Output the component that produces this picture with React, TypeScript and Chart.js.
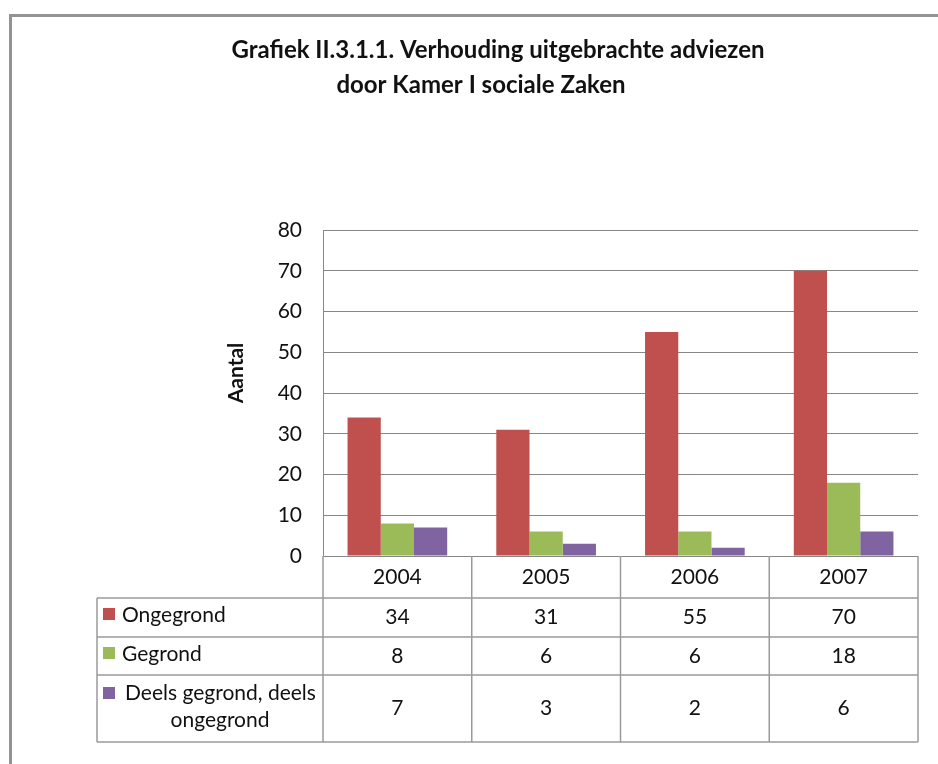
import React, { useEffect, useRef } from "react";
import { Chart, registerables } from "chart.js";

Chart.register(...registerables);

const categories = ["2004", "2005", "2006", "2007"];
const ongegrond = [34, 31, 55, 70];
const gegrond = [8, 6, 6, 18];
const deels = [7, 3, 2, 6];
const seriesNames = ["Ongegrond", "Gegrond", "Deels gegrond, deels ongegrond"];
const seriesColors = ["#C0504D", "#9BBB59", "#8064A2"];
const titleLines = [
  "Grafiek II.3.1.1. Verhouding uitgebrachte adviezen",
  "door Kamer I sociale Zaken",
];
const yAxisTitle = "Aantal";

const FONT = "Lato, 'Open Sans', sans-serif";
const TEXT = "#111111";

const tablePlugin = {
  id: "tablePlugin",
  beforeDraw(chart: any) {
    const ctx = chart.ctx;
    ctx.save();
    ctx.fillStyle = "#ffffff";
    ctx.fillRect(0, 0, chart.width, chart.height);
    ctx.restore();
  },
  afterDraw(chart: any) {
    const ctx = chart.ctx;
    const xs = chart.scales.x;
    const area = chart.chartArea;
    const n = categories.length;
    const colW = (area.right - area.left) / n;
    const bounds = Array.from({ length: n + 1 }, (_, i) => area.left + i * colW);
    const rowY = [area.bottom, 598, 637, 675, 742];
    const tableLeft = 97;

    ctx.save();
    // outer frame
    ctx.strokeStyle = "#939393";
    ctx.lineWidth = 3;
    ctx.beginPath();
    ctx.moveTo(10.5, chart.height);
    ctx.lineTo(10.5, 15.5);
    ctx.lineTo(chart.width, 15.5);
    ctx.stroke();

    // titles
    ctx.fillStyle = TEXT;
    ctx.textAlign = "center";
    ctx.textBaseline = "middle";
    ctx.font = `bold 24px ${FONT}`;
    ctx.fillText(titleLines[0], 498, 50);
    ctx.fillText(titleLines[1], 481, 85);

    // y axis title
    ctx.save();
    ctx.translate(236, 373);
    ctx.rotate(-Math.PI / 2);
    ctx.font = `bold 21px ${FONT}`;
    ctx.fillText(yAxisTitle, 0, 0);
    ctx.restore();

    // table lines
    ctx.strokeStyle = "#9a9a9a";
    ctx.lineWidth = 1.5;
    ctx.beginPath();
    for (let r = 1; r < rowY.length; r++) {
      ctx.moveTo(tableLeft, rowY[r]);
      ctx.lineTo(area.right, rowY[r]);
    }
    bounds.forEach((bx) => {
      ctx.moveTo(bx, area.bottom);
      ctx.lineTo(bx, rowY[rowY.length - 1]);
    });
    ctx.moveTo(tableLeft, rowY[1]);
    ctx.lineTo(tableLeft, rowY[rowY.length - 1]);
    ctx.stroke();

    // header years
    ctx.fillStyle = TEXT;
    ctx.font = `21px ${FONT}`;
    ctx.textAlign = "center";
    categories.forEach((c, i) => {
      const cx = xs.getPixelForValue(i);
      ctx.fillText(c, cx, (rowY[0] + rowY[1]) / 2);
    });

    // rows
    const series = [ongegrond, gegrond, deels];
    series.forEach((vals, s) => {
      const top = rowY[s + 1];
      const bot = rowY[s + 2];
      const cy = (top + bot) / 2;
      vals.forEach((v, i) => {
        const cx = xs.getPixelForValue(i);
        ctx.textAlign = "center";
        ctx.fillText(String(v), cx, cy);
      });
    });

    // row labels with legend squares
    ctx.textAlign = "left";
    ctx.fillStyle = seriesColors[0];
    ctx.fillRect(103, 608, 12, 12);
    ctx.fillStyle = TEXT;
    ctx.fillText(seriesNames[0], 122, 615);

    ctx.fillStyle = seriesColors[1];
    ctx.fillRect(103, 647, 12, 12);
    ctx.fillStyle = TEXT;
    ctx.fillText(seriesNames[1], 122, 654);

    ctx.fillStyle = seriesColors[2];
    ctx.fillRect(103, 687, 12, 12);
    ctx.fillStyle = TEXT;
    ctx.fillText("Deels gegrond, deels", 125, 693);
    ctx.textAlign = "center";
    ctx.fillText("ongegrond", 220, 720);

    ctx.restore();
  },
};

export default function App() {
  const ref = useRef<HTMLCanvasElement | null>(null);

  useEffect(() => {
    if (!ref.current) return;
    const chart = new Chart(ref.current, {
      type: "bar",
      data: {
        labels: categories,
        datasets: [
          { label: seriesNames[0], data: ongegrond, backgroundColor: seriesColors[0] },
          { label: seriesNames[1], data: gegrond, backgroundColor: seriesColors[1] },
          { label: seriesNames[2], data: deels, backgroundColor: seriesColors[2] },
        ],
      },
      options: {
        responsive: false,
        animation: false,
        categoryPercentage: 0.67,
        barPercentage: 1.0,
        layout: { padding: { top: 230, right: 20, bottom: 208, left: 0 } },
        plugins: {
          legend: { display: false },
          title: { display: false },
          tooltip: { enabled: false },
        },
        scales: {
          x: { display: false },
          y: {
            min: 0,
            max: 80,
            afterFit: (s: any) => {
              s.width = 323;
            },
            ticks: {
              stepSize: 10,
              padding: 21,
              color: TEXT,
              font: { family: FONT, size: 21 },
            },
            grid: { color: "#878787", drawTicks: false, lineWidth: 1 },
            border: { color: "#878787" },
          },
        },
      } as any,
      plugins: [tablePlugin],
    });
    return () => chart.destroy();
  }, []);

  return (
    <div style={{ position: "absolute", left: 0, top: 0, width: 938, height: 764 }}>
      <canvas ref={ref} width={938} height={764} style={{ width: 938, height: 764, display: "block" }} />
    </div>
  );
}
